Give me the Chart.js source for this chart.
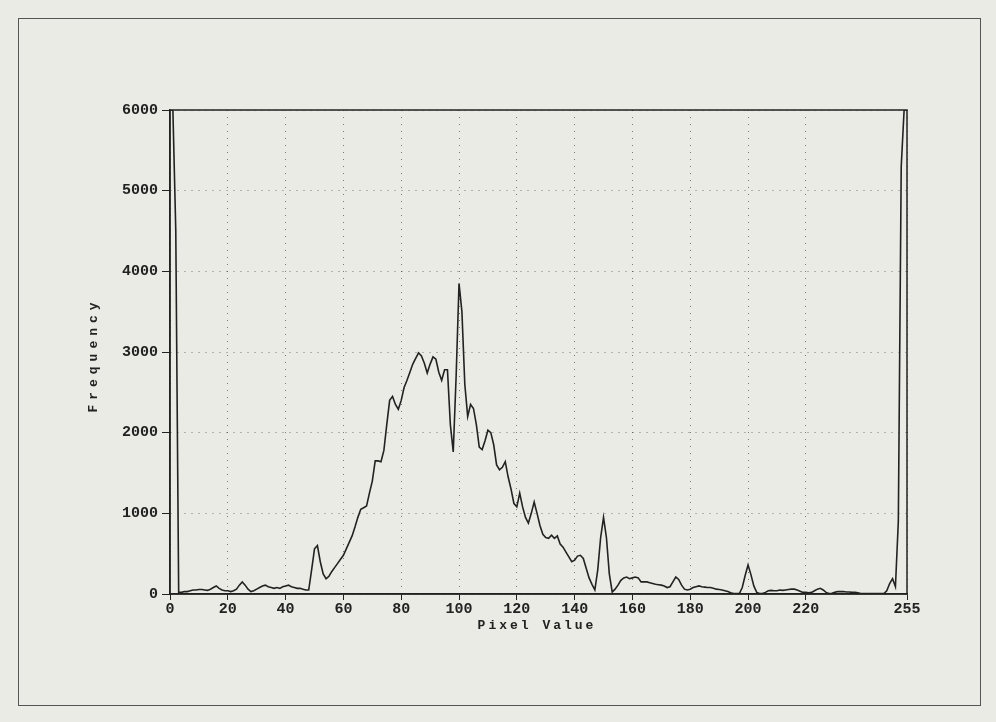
<!DOCTYPE html>
<html>
<head>
<meta charset="utf-8">
<script src="https://cdn.jsdelivr.net/npm/chart.js@4"></script>
<style>
    html, body { margin: 0; padding: 0; background: #ebebe5; }
    #wrap { position: absolute; left: 0; top: 0; width: 996px; height: 722px; }
    #frame { position: absolute; left: 18px; top: 18px; width: 961px; height: 686px; border: 1.5px solid #555; }
    .axis-title {
        position: absolute;
        font-family: 'Liberation Mono', 'DejaVu Sans Mono', monospace;
        font-size: 13px;
        font-weight: bold;
        color: #222;
        letter-spacing: 3px;
        white-space: nowrap;
    }
    #x-title { left: 537px; top: 625px; transform: translate(-50%, -50%); }
    #y-title { left: 93px; top: 355px; transform: translate(-50%, -50%) rotate(-90deg); letter-spacing: 5px; }
</style>
</head>
<body>
<div id="wrap">
    <div id="frame"></div>
    <canvas id="histogram" width="996" height="722"></canvas>
    <div class="axis-title" id="x-title">Pixel Value</div>
    <div class="axis-title" id="y-title">Frequency</div>
</div>
<script>
// histogram counts for pixel values 0..255
const frequency = [
    6000, 6000, 4500, 20, 20, 30, 30, 40, 50, 50, 55, 55, 50, 45, 60, 80,
    100, 70, 50, 40, 40, 30, 40, 60, 110, 150, 110, 60, 30, 40, 60, 80,
    100, 110, 90, 80, 70, 80, 70, 90, 100, 110, 90, 80, 70, 70, 60, 50,
    50, 300, 560, 600, 400, 250, 190, 220, 280, 330, 380, 430, 480, 560, 640, 720,
    830, 950, 1050, 1070, 1090, 1250, 1400, 1650, 1650, 1640, 1780, 2100, 2400, 2450, 2350, 2290,
    2400, 2560, 2650, 2750, 2850, 2920, 2990, 2950, 2860, 2740, 2850, 2940, 2910, 2750, 2650, 2780,
    2780, 2100, 1760, 2700, 3850, 3500, 2600, 2200, 2350, 2300, 2100, 1820, 1790, 1900, 2030, 2000,
    1850, 1600, 1540, 1570, 1640, 1450, 1300, 1120, 1080, 1250, 1080, 950, 880, 1000, 1140, 1000,
    850, 740, 700, 690, 730, 690, 720, 620, 580, 520, 460, 400, 420, 470, 480, 440,
    320, 200, 120, 50, 300, 700, 950, 700, 250, 25, 60, 110, 170, 200, 210, 190,
    200, 210, 200, 150, 150, 150, 140, 130, 120, 115, 110, 100, 80, 90, 150, 210,
    180, 110, 60, 50, 60, 80, 90, 100, 90, 85, 80, 80, 70, 60, 55, 50,
    40, 30, 15, 5, 5, 5, 80, 230, 360, 240, 100, 20, 5, 5, 20, 40,
    45, 40, 40, 50, 45, 50, 55, 60, 60, 50, 35, 20, 20, 15, 20, 40,
    60, 70, 50, 20, 5, 10, 20, 30, 30, 30, 25, 25, 20, 20, 15, 5,
    5, 5, 5, 5, 5, 5, 5, 5, 40, 130, 190, 90, 900, 5300, 6000, 6000
];
const pixelValues = frequency.map((_, i) => i);
const xTicks = [0, 20, 40, 60, 80, 100, 120, 140, 160, 180, 200, 220, 255];
const yTicks = [0, 1000, 2000, 3000, 4000, 5000, 6000];

const ink = '#222';
const monoFont = { family: "'Liberation Mono', 'DejaVu Sans Mono', monospace", size: 15, weight: 'bold' };

// solid box round the plot
const plotBox = {
    id: 'plotBox',
    afterDraw(chart) {
        const a = chart.chartArea;
        const ctx = chart.ctx;
        ctx.save();
        ctx.strokeStyle = ink;
        ctx.lineWidth = 1.5;
        ctx.setLineDash([]);
        ctx.strokeRect(a.left, a.top, a.right - a.left, a.bottom - a.top);
        ctx.restore();
    }
};

function loadGraph() {
    const config = {
        type: 'line',
        data: {
            datasets: [{
                label: 'Frequency',
                data: pixelValues.map((x, i) => ({ x: x, y: frequency[i] })),
                borderColor: ink,
                borderWidth: 1.6,
                pointRadius: 0,
                tension: 0,
                fill: false
            }]
        },
        options: {
            responsive: false,
            animation: false,
            layout: { padding: { left: 84, top: 110, right: 89, bottom: 86 } },
            scales: {
                x: {
                    type: 'linear',
                    min: 0,
                    max: 255,
                    afterBuildTicks: axis => { axis.ticks = xTicks.map(v => ({ value: v })); },
                    afterFit: axis => { axis.height = 42; },
                    ticks: { autoSkip: false, maxRotation: 0, color: ink, font: monoFont, padding: 0 },
                    grid: { color: 'rgba(30,30,30,0.55)', tickColor: ink, tickLength: 6 },
                    border: { display: true, color: ink, width: 1.5, dash: [1, 6] }
                },
                y: {
                    type: 'linear',
                    min: 0,
                    max: 6000,
                    afterBuildTicks: axis => { axis.ticks = yTicks.map(v => ({ value: v })); },
                    afterFit: axis => { axis.width = 86; },
                    ticks: { color: ink, font: monoFont, padding: 4, callback: v => String(v) },
                    grid: { color: 'rgba(30,30,30,0.55)', tickColor: ink, tickLength: 8 },
                    border: { display: true, color: ink, width: 1.5, dash: [1, 6] }
                }
            },
            plugins: {
                legend: { display: false },
                tooltip: { enabled: false }
            }
        },
        plugins: [plotBox]
    };

    const ctx = document.getElementById('histogram').getContext('2d');
    new Chart(ctx, config);
}

document.addEventListener('DOMContentLoaded', function () {
    loadGraph();
});
</script>
</body>
</html>
